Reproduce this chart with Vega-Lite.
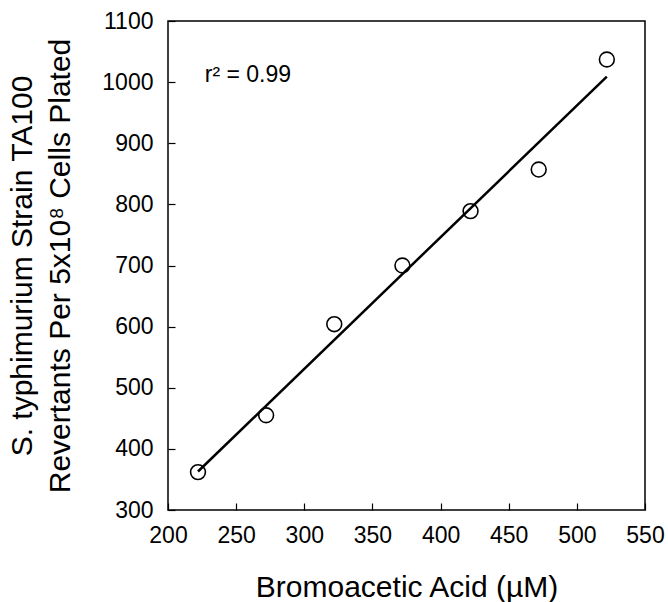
{
  "$schema": "https://vega.github.io/schema/vega-lite/v6.json",
  "width": 477,
  "height": 489,
  "autosize": {"type": "none"},
  "padding": {"left": 168, "top": 21, "right": 23, "bottom": 92},
  "background": "white",
  "config": {
    "font": "Liberation Sans",
    "view": {"stroke": "black", "strokeWidth": 1.5},
    "axis": {
      "grid": false,
      "domain": false,
      "tickColor": "black",
      "tickWidth": 1.2,
      "tickSize": 7,
      "offset": -7,
      "labelFlush": false,
      "labelOverlap": false,
      "labelColor": "black",
      "titleColor": "black",
      "labelFont": "Liberation Sans",
      "titleFont": "Liberation Sans",
      "labelFontSize": 23,
      "titleFontSize": 30,
      "titleFontWeight": "normal",
      "format": "d"
    }
  },
  "datasets": {
    "points": [
      {"acid": 222, "revertants": 362},
      {"acid": 272, "revertants": 455},
      {"acid": 322, "revertants": 604},
      {"acid": 372, "revertants": 700},
      {"acid": 422, "revertants": 789},
      {"acid": 472, "revertants": 857},
      {"acid": 522, "revertants": 1037}
    ],
    "fit": [
      {"acid": 222, "revertants": 363},
      {"acid": 522, "revertants": 1009}
    ]
  },
  "layer": [
    {
      "data": {"name": "fit"},
      "mark": {"type": "line", "color": "black", "strokeWidth": 2.5},
      "encoding": {
        "x": {
          "field": "acid", "type": "quantitative",
          "scale": {"domain": [200, 550], "nice": false},
          "axis": {
            "values": [200, 250, 300, 350, 400, 450, 500, 550],
            "labelPadding": 14,
            "titlePadding": 25,
            "title": "Bromoacetic Acid (µM)"
          }
        },
        "y": {
          "field": "revertants", "type": "quantitative",
          "scale": {"domain": [300, 1100], "nice": false, "zero": false},
          "axis": {
            "values": [300, 400, 500, 600, 700, 800, 900, 1000, 1100],
            "labelPadding": 15,
            "titlePadding": 26,
            "titleLineHeight": 38,
            "title": ["S. typhimurium Strain TA100", "Revertants Per 5x10⁸ Cells Plated"]
          }
        }
      }
    },
    {
      "data": {"name": "points"},
      "mark": {"type": "point", "shape": "circle", "filled": false, "color": "black", "strokeWidth": 1.6, "size": 220, "opacity": 1},
      "encoding": {
        "x": {"field": "acid", "type": "quantitative"},
        "y": {"field": "revertants", "type": "quantitative"}
      }
    },
    {
      "data": {"values": [{"label": "r² = 0.99"}]},
      "mark": {"type": "text", "align": "left", "baseline": "alphabetic", "fontSize": 23, "color": "black", "font": "Liberation Sans"},
      "encoding": {
        "x": {"datum": 227, "type": "quantitative"},
        "y": {"datum": 1001, "type": "quantitative"},
        "text": {"field": "label"}
      }
    }
  ]
}
